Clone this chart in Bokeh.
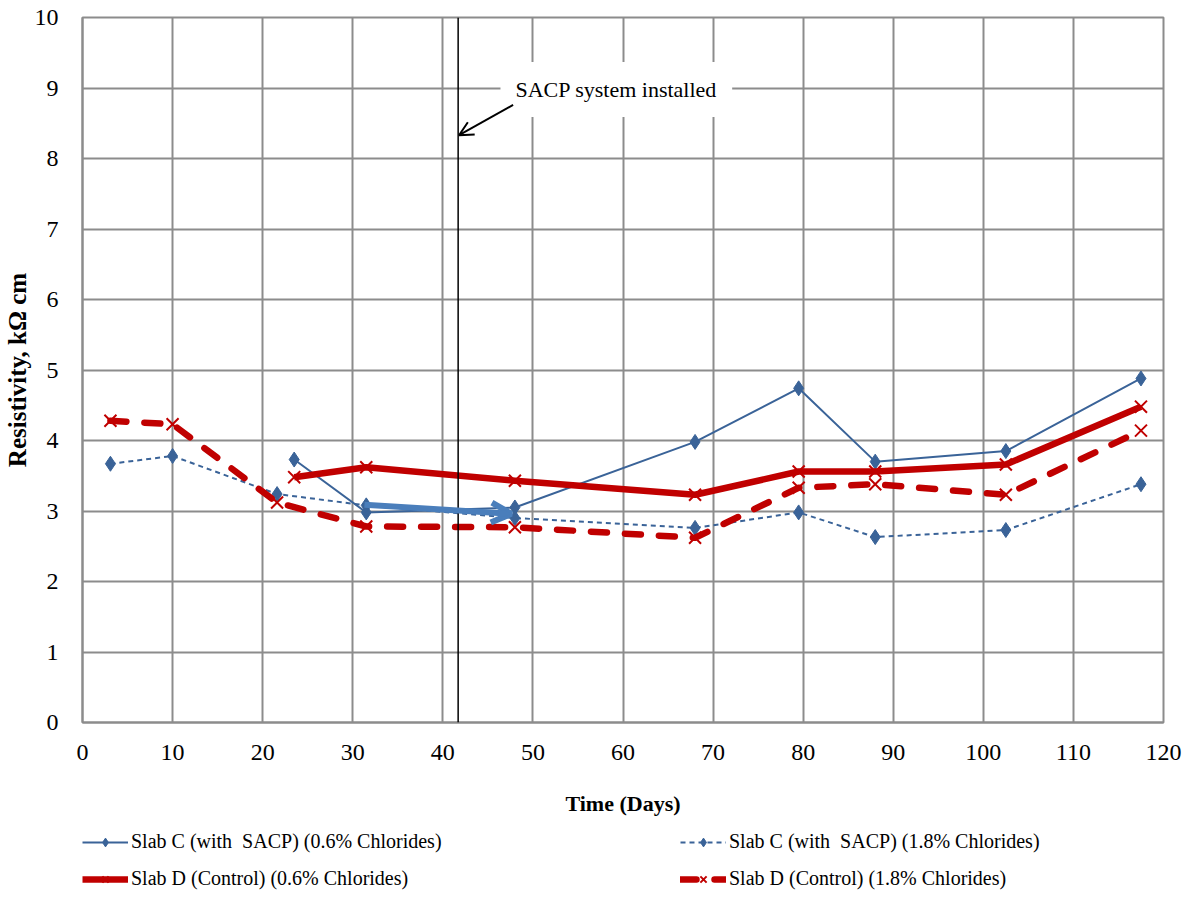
from bokeh.plotting import figure
from bokeh.layouts import column
from bokeh.models import (Legend, LegendItem, Span, Label, Arrow, OpenHead,
                          FixedTicker, Range1d)
from bokeh.embed import file_html
from bokeh.resources import INLINE

# Resistivity readings (kΩ cm) against time (days)
days_18 = [3.1, 10.0, 21.6, 31.5, 48.0, 68.0, 79.5, 88.0, 102.5, 117.5]
slab_c_18 = [3.67, 3.78, 3.24, 3.08, 2.90, 2.76, 2.98, 2.63, 2.73, 3.38]
slab_d_18 = [4.28, 4.23, 3.12, 2.78, 2.77, 2.62, 3.33, 3.38, 3.23, 4.14]

days_06 = [23.5, 31.5, 48.0, 68.0, 79.5, 88.0, 102.5, 117.5]
slab_c_06 = [3.73, 2.98, 3.05, 3.98, 4.74, 3.70, 3.85, 4.88]
slab_d_06 = [3.48, 3.62, 3.43, 3.23, 3.56, 3.56, 3.66, 4.48]

x_ticks = list(range(0, 121, 10))
y_ticks = list(range(0, 11))

install_day = 41.7
install_text = "SACP system installed"
install_text_pos = (46.4, 8.98)
install_arrow_start = (47.8, 8.76)
install_arrow_end = (41.8, 8.33)

trend_arrow_start = (31.3, 3.09)
trend_arrow_end = (47.6, 2.96)

FONT = "Liberation Serif"
BLUE = "#3a6398"
RED = "#c00000"
GRID = "#8c8c8c"

# Line / marker styling per series
series = [
    dict(label="Slab C (with  SACP) (0.6% Chlorides)",
         line=dict(line_color=BLUE, line_width=2),
         mark=dict(marker="diamond", size=15, fill_color=BLUE, line_color=BLUE)),
    dict(label="Slab D (Control) (0.6% Chlorides)",
         line=dict(line_color=RED, line_width=6.5, line_join="round"),
         mark=dict(marker="x", size=17, line_color=RED, line_width=2)),
    dict(label="Slab C (with  SACP) (1.8% Chlorides)",
         line=dict(line_color=BLUE, line_width=2, line_dash="5 4"),
         mark=dict(marker="diamond", size=15, fill_color=BLUE, line_color=BLUE)),
    dict(label="Slab D (Control) (1.8% Chlorides)",
         line=dict(line_color=RED, line_width=6.5, line_dash="16 18",
                   line_cap="round", line_join="round"),
         mark=dict(marker="x", size=17, line_color=RED, line_width=2)),
]
series_data = [
    (days_06, slab_c_06),
    (days_06, slab_d_06),
    (days_18, slab_c_18),
    (days_18, slab_d_18),
]

p = figure(width=1195, height=822,
           min_border_left=81, min_border_right=32, min_border_top=17,
           min_border_bottom=100, output_backend="svg", toolbar_location=None,
           x_range=Range1d(0, 120), y_range=Range1d(0, 10))
p.background_fill_color = "white"
p.border_fill_color = "white"
p.outline_line_color = GRID
p.outline_line_width = 2

for ax in (p.xaxis[0], p.yaxis[0]):
    ax.axis_line_color = GRID
    ax.axis_line_width = 2
    ax.major_tick_line_color = None
    ax.minor_tick_line_color = None
    ax.major_label_text_font = FONT
    ax.major_label_text_font_size = "24px"
    ax.major_label_text_color = "black"
    ax.axis_label_text_font = FONT
    ax.axis_label_text_font_style = "bold"
    ax.axis_label_text_color = "black"

p.xaxis.ticker = FixedTicker(ticks=x_ticks)
p.yaxis.ticker = FixedTicker(ticks=y_ticks)
p.xaxis.axis_label = "Time (Days)"
p.yaxis.axis_label = "Resistivity, kΩ cm"
p.xaxis.axis_label_text_font_size = "22px"
p.yaxis.axis_label_text_font_size = "25px"
p.xaxis.major_label_standoff = 16
p.yaxis.major_label_standoff = 18
p.xaxis.axis_label_standoff = 28
p.yaxis.axis_label_standoff = 1

p.xgrid.ticker = FixedTicker(ticks=x_ticks)
p.ygrid.ticker = FixedTicker(ticks=y_ticks)
for g in (p.xgrid[0], p.ygrid[0]):
    g.grid_line_color = GRID
    g.grid_line_width = 2

# Blue series first, red on top
for i in (0, 2, 1, 3):
    xs, ys = series_data[i]
    p.line(xs, ys, **series[i]["line"])
    p.scatter(xs, ys, **series[i]["mark"])

# Installation marker
p.add_layout(Span(location=install_day, dimension="height",
                  line_color="black", line_width=1.5))
p.add_layout(Label(x=install_text_pos[0], y=install_text_pos[1],
                   text=install_text, text_font=FONT, text_font_size="22px",
                   text_color="black", text_baseline="middle",
                   background_fill_color="white", padding=15))
p.add_layout(Arrow(x_start=install_arrow_start[0], y_start=install_arrow_start[1],
                   x_end=install_arrow_end[0], y_end=install_arrow_end[1],
                   line_color="black", line_width=2,
                   end=OpenHead(size=14, line_color="black", line_width=2)))

# Trend arrow between day 31 and day 48
p.add_layout(Arrow(x_start=trend_arrow_start[0], y_start=trend_arrow_start[1],
                   x_end=trend_arrow_end[0], y_end=trend_arrow_end[1],
                   line_color="#4a7ebb", line_width=6,
                   end=OpenHead(size=20, line_color="#4a7ebb", line_width=6)))

# Key strip under the chart, two columns; its view window sits above the
# data so only the legend is seen
key = figure(width=1195, height=78, min_border=0, output_backend="svg",
             toolbar_location=None, x_axis_location=None, y_axis_location=None,
             x_range=Range1d(0, 120), y_range=Range1d(100, 101))
key.outline_line_color = None
key.xgrid.visible = False
key.ygrid.visible = False

items = []
for s, (xs, ys) in zip(series, series_data):
    r_line = key.line(xs, ys, **s["line"])
    r_mark = key.scatter(xs, ys, **s["mark"])
    items.append(LegendItem(label=s["label"], renderers=[r_line, r_mark]))

legend = Legend(items=items, location=(0, 10), orientation="vertical",
                nrows=2, border_line_color=None, background_fill_alpha=0,
                padding=0, margin=0, spacing=14, glyph_width=46,
                glyph_height=22, label_height=20, label_width=535,
                label_standoff=3, label_text_font=FONT,
                label_text_font_size="20px", label_text_color="black")
key.add_layout(legend)

open("out.html", "w").write(file_html(column(p, key, spacing=0), INLINE))
